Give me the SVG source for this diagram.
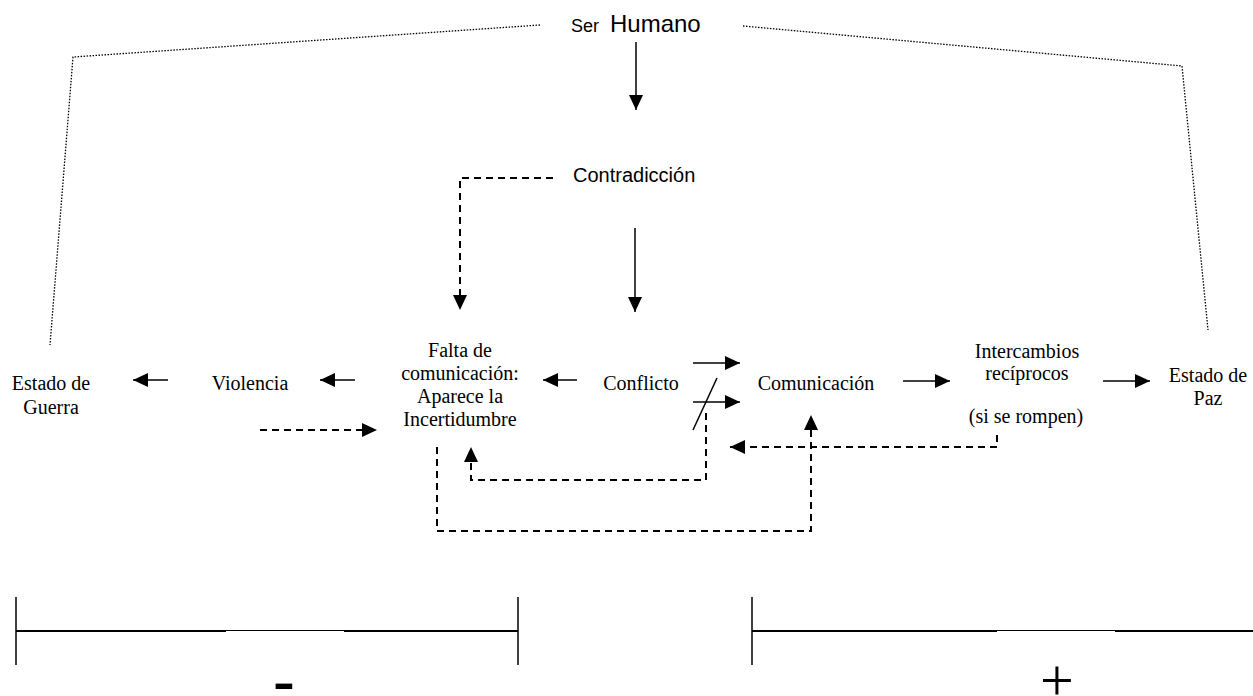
<svg xmlns="http://www.w3.org/2000/svg" width="1253" height="696" viewBox="0 0 1253 696">
<style>
.t{font-family:"Liberation Serif","Times New Roman",serif;font-size:20px;fill:#000;text-anchor:middle}
.a{font-family:"Liberation Sans",Arial,sans-serif;fill:#000}
.s{stroke:#000;stroke-width:1.5;fill:none}
.d{stroke:#000;stroke-width:2;fill:none;stroke-dasharray:7 5}
.o{stroke:#000;stroke-width:1.3;fill:none;stroke-dasharray:1.5 1.5}
.b{stroke:#000;stroke-width:2}
.bt{stroke:#000;stroke-width:1}
</style>
<defs>
<marker id="ah" markerUnits="userSpaceOnUse" markerWidth="16" markerHeight="15" refX="15" refY="7" orient="auto">
<path d="M0,0 L15,7 L0,14 Z" fill="#000"/>
</marker>
</defs>
<rect width="1253" height="696" fill="#fff"/>

<g id="frame">
<polyline class="o" points="540,25 73,57 50,345"/>
<polyline class="o" points="743,26 1182,66 1208,330"/>
</g>

<g id="n-ser"><text class="a" x="571" y="32" font-size="18">Ser</text><text class="a" x="610" y="32" font-size="24">Humano</text></g>
<g id="n-contradiccion"><text class="a" x="573" y="182" font-size="20">Contradicción</text></g>
<g id="n-guerra"><text class="t" x="51" y="390">Estado de</text><text class="t" x="51" y="414">Guerra</text></g>
<g id="n-violencia"><text class="t" x="250" y="390">Violencia</text></g>
<g id="n-falta"><text class="t" x="460" y="357">Falta de</text><text class="t" x="460" y="380">comunicación:</text><text class="t" x="460" y="403">Aparece la</text><text class="t" x="460" y="426">Incertidumbre</text></g>
<g id="n-conflicto"><text class="t" x="641" y="390">Conflicto</text></g>
<g id="n-comunicacion"><text class="t" x="816" y="390">Comunicación</text></g>
<g id="n-intercambios"><text class="t" x="1027" y="358">Intercambios</text><text class="t" x="1027" y="380">recíprocos</text><text class="t" x="1026" y="423">(si se rompen)</text></g>
<g id="n-paz"><text class="t" x="1208" y="382">Estado de</text><text class="t" x="1208" y="405">Paz</text></g>

<g id="connectors">
<line class="s" x1="636" y1="42" x2="636" y2="110" stroke-width="1.2" marker-end="url(#ah)"/>
<line class="s" x1="635" y1="228" x2="635" y2="312" marker-end="url(#ah)"/>
<polyline class="d" points="553,178 460,178 460,310" marker-end="url(#ah)"/>
<line class="s" x1="168" y1="380" x2="133" y2="380" marker-end="url(#ah)"/>
<line class="s" x1="355" y1="380" x2="320" y2="380" marker-end="url(#ah)"/>
<line class="s" x1="577" y1="380" x2="543" y2="380" marker-end="url(#ah)"/>
<line class="s" x1="693" y1="363" x2="740" y2="363" marker-end="url(#ah)"/>
<line class="s" x1="693" y1="402" x2="740" y2="402" marker-end="url(#ah)"/>
<line class="s" x1="717" y1="378" x2="693" y2="430"/>
<line class="s" x1="903" y1="381" x2="950" y2="381" marker-end="url(#ah)"/>
<line class="s" x1="1103" y1="381" x2="1150" y2="381" marker-end="url(#ah)"/>
<line class="d" x1="260" y1="430" x2="377" y2="430" marker-end="url(#ah)"/>
<polyline class="d" points="706,413 706,480 471,480 471,447" marker-end="url(#ah)"/>
<polyline class="d" points="437,447 437,531 811,531 811,415" marker-end="url(#ah)"/>
<polyline class="d" points="997,435 997,447 730,447" marker-end="url(#ah)"/>
</g>

<g id="scale">
<line class="s" x1="16" y1="597" x2="16" y2="665"/>
<line class="s" x1="518" y1="597" x2="518" y2="665"/>
<line class="b" x1="16" y1="631" x2="226" y2="631"/>
<line class="bt" x1="226" y1="630.5" x2="344" y2="630.5"/>
<line class="b" x1="344" y1="631" x2="518" y2="631"/>
<line class="s" x1="752" y1="597" x2="752" y2="665"/>
<line class="b" x1="752" y1="631" x2="997" y2="631"/>
<line class="bt" x1="997" y1="630.5" x2="1115" y2="630.5"/>
<line class="b" x1="1115" y1="631" x2="1253" y2="631"/>
<text x="284" y="701" font-family="Liberation Serif, serif" font-size="64" font-weight="bold" text-anchor="middle">-</text>
<text x="1057" y="700" font-family="Liberation Serif, serif" font-size="60" text-anchor="middle">+</text>
</g>
</svg>
